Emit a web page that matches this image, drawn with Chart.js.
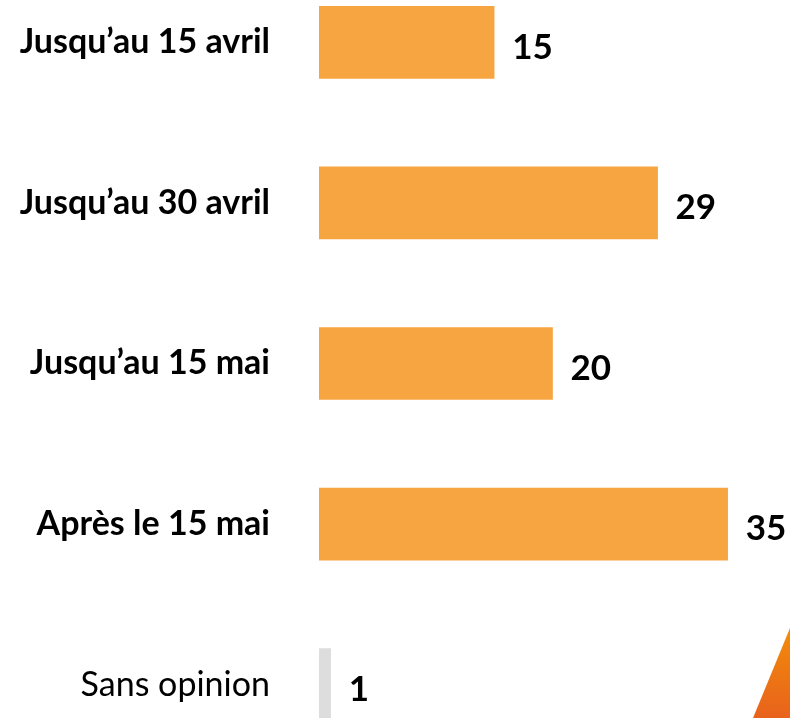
<!DOCTYPE html>
<html>
<head>
<meta charset="utf-8">
<script src="https://cdn.jsdelivr.net/npm/chart.js@4"></script>
<style>
  html, body { margin: 0; padding: 0; background: #ffffff; overflow: hidden; }
  #wrap { position: relative; width: 790px; height: 718px; overflow: hidden; }
  #graphique { position: absolute; left: 0; top: -38px; }
  /* petit triangle décoratif en bas à droite */
  #coin {
    position: absolute; left: 753px; top: 628px; width: 37px; height: 90px;
    background: linear-gradient(180deg, #f28c0a, #e8621c);
    clip-path: polygon(100% 0, 0 100%, 100% 100%);
  }
</style>
</head>
<body>
<div id="wrap">
  <canvas id="graphique" width="790" height="803"></canvas>
  <div id="coin"></div>
</div>
<script>
// Données
const categories = ['Jusqu\u2019au 15 avril', 'Jusqu\u2019au 30 avril', 'Jusqu\u2019au 15 mai', 'Apr\u00e8s le 15 mai', 'Sans opinion'];
const valeurs = [15, 29, 20, 35, 1];
const couleurs = ['#f6a540', '#f6a540', '#f6a540', '#f6a540', '#dddddd'];

const policeTexte = 'Lato, "Open Sans", sans-serif';

// Plugin pour écrire les valeurs à droite des barres
const etiquettesValeurs = {
  id: 'etiquettesValeurs',
  afterDatasetsDraw(chart) {
    const ctx = chart.ctx;
    const meta = chart.getDatasetMeta(0);
    ctx.save();
    ctx.fillStyle = '#000000';
    ctx.font = 'bold 35px ' + policeTexte;
    ctx.textAlign = 'left';
    ctx.textBaseline = 'middle';
    meta.data.forEach((barre, i) => {
      ctx.fillText(String(valeurs[i]), barre.x + 18, barre.y + 5);
    });
    ctx.restore();
  }
};

new Chart(document.getElementById('graphique').getContext('2d'), {
  type: 'bar',
  data: {
    labels: categories,
    datasets: [{
      data: valeurs,
      backgroundColor: couleurs,
      borderWidth: 0,
      barThickness: 72
    }]
  },
  options: {
    indexAxis: 'y',
    responsive: false,
    animation: false,
    devicePixelRatio: 1,
    layout: { padding: { left: 0, right: 4, top: 0, bottom: 0 } },
    plugins: {
      legend: { display: false },
      tooltip: { enabled: false }
    },
    scales: {
      x: {
        display: false,
        min: 0,
        max: 40
      },
      y: {
        offset: true,
        grid: { display: false, drawTicks: false },
        border: { display: false },
        afterFit(scale) {
          scale.width = 319;
          scale.paddingTop = 0;
          scale.paddingBottom = 0;
        },
        ticks: {
          padding: 49,
          color: '#000000',
          font: (c) => ({
            family: policeTexte,
            size: 34,
            weight: c.index === 4 ? 'normal' : 'bold'
          })
        }
      }
    }
  },
  plugins: [etiquettesValeurs]
});
</script>
</body>
</html>
